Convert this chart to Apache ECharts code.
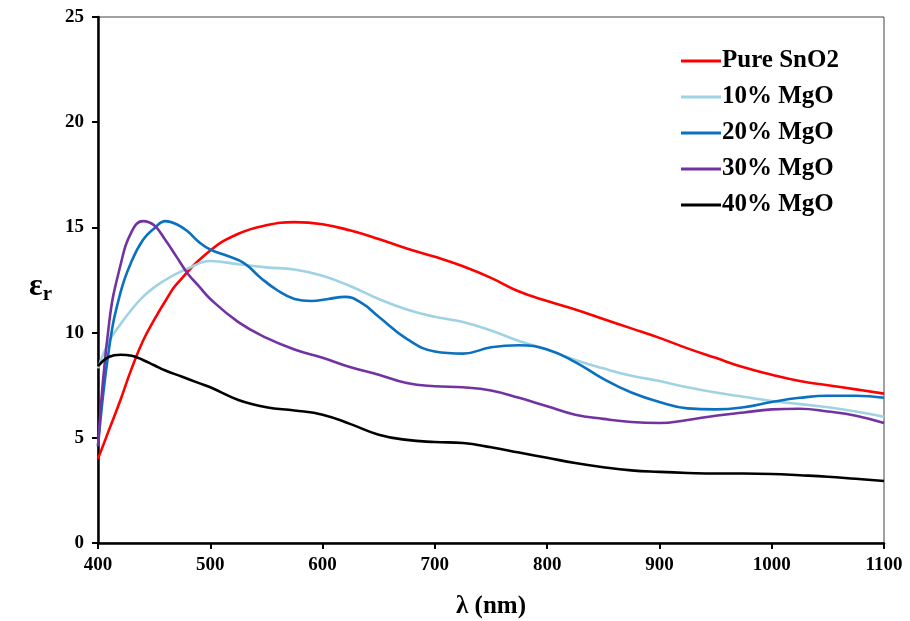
<!DOCTYPE html>
<html>
<head>
<meta charset="utf-8">
<title>Dielectric constant vs wavelength</title>
<script src="https://cdn.jsdelivr.net/npm/echarts@6/dist/echarts.min.js"></script>
<style>
  html, body { margin: 0; padding: 0; background: #fff; }
  #chart { width: 910px; height: 621px; }
</style>
</head>
<body>
<div id="chart"></div>
<script>
// Relative permittivity (εr) against wavelength for SnO2 and MgO-doped samples
const seriesNames = ['Pure SnO2', '10% MgO', '20% MgO', '30% MgO', '40% MgO'];
const seriesColors = ['#ff0000', '#9fd3e4', '#0a70c0', '#7232a2', '#000000'];

const pureLambda = [400, 410, 420, 430, 440, 450, 460, 470, 500, 525, 550, 575, 600, 625, 650, 675, 700, 725, 750, 775, 800, 825, 850, 875, 900, 925, 950, 975, 1000, 1025, 1050, 1075, 1100];
const pureEps    = [4.0, 5.4, 6.8, 8.3, 9.6, 10.6, 11.5, 12.3, 13.9, 14.7, 15.1, 15.25, 15.15, 14.85, 14.45, 14.0, 13.6, 13.15, 12.6, 11.95, 11.5, 11.1, 10.65, 10.2, 9.75, 9.25, 8.8, 8.35, 8.0, 7.7, 7.5, 7.3, 7.1];

const mgo10Lambda = [400, 410, 420, 430, 440, 450, 460, 470, 480, 500, 525, 550, 575, 600, 625, 650, 675, 700, 725, 750, 775, 800, 825, 850, 875, 900, 925, 950, 975, 1000, 1025, 1050, 1075, 1100];
const mgo10Eps    = [8.3, 9.6, 10.4, 11.1, 11.7, 12.15, 12.5, 12.8, 13.05, 13.4, 13.25, 13.1, 13.0, 12.7, 12.2, 11.6, 11.1, 10.75, 10.5, 10.1, 9.6, 9.2, 8.7, 8.3, 7.95, 7.7, 7.4, 7.15, 6.95, 6.75, 6.6, 6.45, 6.25, 6.0];

const mgo20Lambda = [400, 410, 420, 430, 440, 450, 460, 470, 480, 490, 500, 515, 530, 545, 560, 575, 590, 605, 620, 635, 650, 675, 700, 725, 750, 775, 800, 825, 850, 875, 900, 925, 950, 975, 1000, 1025, 1050, 1075, 1100];
const mgo20Eps    = [4.6, 9.3, 11.9, 13.4, 14.4, 14.95, 15.3, 15.15, 14.8, 14.3, 13.95, 13.65, 13.3, 12.6, 12.0, 11.6, 11.5, 11.6, 11.7, 11.4, 10.75, 9.7, 9.1, 9.0, 9.3, 9.4, 9.2, 8.6, 7.8, 7.15, 6.7, 6.4, 6.35, 6.45, 6.7, 6.9, 7.0, 7.0, 6.9];

const mgo30Lambda = [400, 410, 420, 430, 440, 450, 460, 470, 480, 490, 500, 525, 550, 575, 600, 625, 650, 675, 700, 725, 750, 775, 800, 825, 850, 875, 900, 925, 950, 975, 1000, 1025, 1050, 1075, 1100];
const mgo30Eps    = [4.6, 10.5, 13.2, 14.8, 15.3, 15.1, 14.4, 13.6, 12.8, 12.2, 11.6, 10.5, 9.75, 9.2, 8.8, 8.35, 8.0, 7.6, 7.45, 7.4, 7.25, 6.9, 6.5, 6.1, 5.9, 5.75, 5.7, 5.85, 6.05, 6.2, 6.35, 6.38, 6.25, 6.05, 5.7];

const mgo40Lambda = [400, 410, 420, 430, 440, 450, 460, 475, 490, 500, 525, 550, 575, 600, 625, 650, 675, 700, 725, 750, 775, 800, 825, 850, 875, 900, 925, 950, 975, 1000, 1025, 1050, 1075, 1100];
const mgo40Eps    = [8.4, 8.85, 8.95, 8.9, 8.7, 8.45, 8.2, 7.9, 7.6, 7.4, 6.8, 6.45, 6.3, 6.1, 5.65, 5.15, 4.9, 4.8, 4.75, 4.55, 4.3, 4.05, 3.8, 3.6, 3.45, 3.38, 3.33, 3.3, 3.3, 3.28, 3.22, 3.15, 3.05, 2.95];

const lambdaSets = [pureLambda, mgo10Lambda, mgo20Lambda, mgo30Lambda, mgo40Lambda];
const epsSets = [pureEps, mgo10Eps, mgo20Eps, mgo30Eps, mgo40Eps];

const xMin = 400, xMax = 1100, xStep = 100;
const yMin = 0, yMax = 25, yStep = 5;

const serif = "'Liberation Serif', 'Times New Roman', serif";

const chart = echarts.init(document.getElementById('chart'), null, { renderer: 'canvas' });

const series = seriesNames.map((name, i) => ({
  name: name,
  type: 'line',
  smooth: 0.45,
  symbol: 'none',
  showSymbol: false,
  lineStyle: { color: seriesColors[i], width: 2.6 },
  itemStyle: { color: seriesColors[i] },
  data: lambdaSets[i].map((x, k) => [x, epsSets[i][k]])
}));

chart.setOption({
  animation: false,
  backgroundColor: '#ffffff',
  grid: {
    left: 98, right: 26, top: 17, bottom: 78,
    outerBoundsMode: 'none',
    show: true, borderColor: '#444', borderWidth: 1, backgroundColor: 'transparent'
  },
  legend: {
    orient: 'vertical',
    left: 676,
    top: 43,
    itemWidth: 40,
    itemHeight: 3,
    itemGap: 10,
    icon: 'rect',
    textStyle: { fontFamily: serif, fontWeight: 'bold', fontSize: 25, color: '#000', lineHeight: 26, padding: [0, 0, 0, -4] },
    data: seriesNames
  },
  xAxis: {
    type: 'value',
    min: xMin, max: xMax, interval: xStep,
    name: 'λ (nm)',
    nameLocation: 'middle',
    nameGap: 51,
    nameTextStyle: { fontFamily: serif, fontWeight: 'bold', fontSize: 25, color: '#000' },
    axisLine: { show: true, onZero: false, lineStyle: { color: '#000', width: 2.5 } },
    axisTick: { show: true, inside: false, length: 6, lineStyle: { color: '#000', width: 2 } },
    axisLabel: { fontFamily: serif, fontWeight: 'bold', fontSize: 19, color: '#000', margin: 13, formatter: v => String(v) },
    splitLine: { show: false }
  },
  yAxis: {
    type: 'value',
    min: yMin, max: yMax, interval: yStep,
    name: '{e|ε}{r|r}',
    nameLocation: 'middle',
    nameRotate: 0,
    nameGap: 46,
    nameTextStyle: {
      padding: [14, 0, 0, 0],
      rich: {
        e: { fontFamily: serif, fontWeight: 'bold', fontSize: 32, color: '#000' },
        r: { fontFamily: serif, fontWeight: 'bold', fontSize: 21, color: '#000', padding: [16, 0, 0, 0] }
      }
    },
    axisLine: { show: true, onZero: false, lineStyle: { color: '#000', width: 2.5 } },
    axisTick: { show: true, inside: false, length: 6, lineStyle: { color: '#000', width: 2 } },
    axisLabel: { fontFamily: serif, fontWeight: 'bold', fontSize: 19, color: '#000', margin: 14 },
    splitLine: { show: false }
  },
  series: series
});
</script>
</body>
</html>
